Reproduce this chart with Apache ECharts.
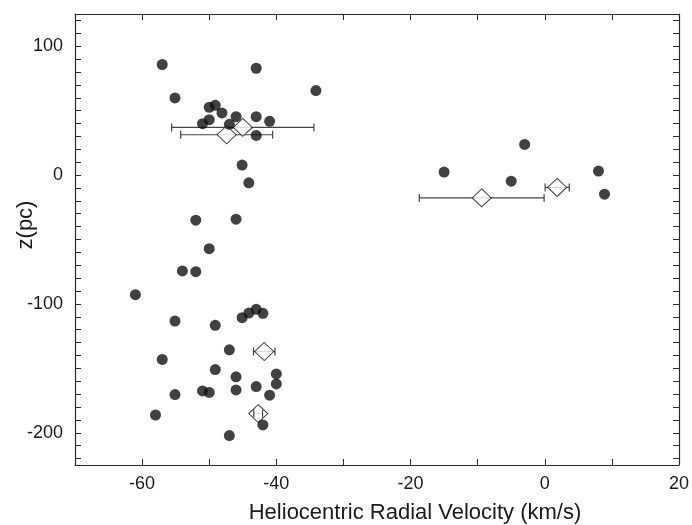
<!DOCTYPE html>
<html>
<head>
<meta charset="utf-8">
<script src="https://cdn.jsdelivr.net/npm/echarts@6/dist/echarts.min.js"></script>
<style>html,body{margin:0;padding:0;background:#fff}#c{width:692px;height:525px}</style>
</head>
<body>
<div id="c"></div>
<script>
// Filled circles: individual stars
const starV = [-57.0,-43.0,-34.1,-55.1,-50.0,-49.1,-48.1,-46.0,-43.0,-50.0,-51.0,-47.0,-41.0,-43.0,-45.1,-44.1,-52.0,-46.0,
  -50.0,-54.0,-52.0,-61.0,-45.1,-44.1,-43.0,-42.0,-55.1,-49.1,-47.0,-57.0,-49.1,-46.0,-40.0,-40.0,-43.0,-46.0,-51.0,-50.0,-55.1,-41.0,-58.0,-42.0,-47.0,
  -15.0,-3.0,-5.0,8.0,8.9];
const starZ = [85.8,82.9,65.6,59.9,52.6,54.1,48.2,45.3,45.3,43.0,39.9,39.4,41.7,30.8,7.8,-6.0,-35.0,-34.2,
  -57.1,-74.4,-75.0,-92.8,-110.7,-107.1,-104.2,-107.3,-113.3,-116.6,-135.6,-143.1,-150.9,-156.6,-154.3,-162.1,-164.1,-166.7,-167.5,-168.7,-170.3,-170.8,-186.2,-193.9,-202.2,
  2.3,23.8,-4.7,3.1,-14.8];
// Open diamonds: group means with velocity errors
const meanV = [-45.0,-47.4,-41.8,-42.7,-9.4,1.85];
const meanZ = [37.0,31.3,-136.9,-185.1,-17.7,-9.6];
const meanErr = [10.6,6.85,1.6,0.65,9.3,1.8];
// Axis ticks / labels
const xTicks = [-70,-60,-50,-40,-30,-20,-10,0,10,20];
const xLabels = [-60,-40,-20,0,20];
const yTicks = [-220,-210,-200,-190,-180,-170,-160,-150,-140,-130,-120,-110,-100,-90,-80,-70,-60,-50,-40,-30,-20,-10,0,10,20,30,40,50,60,70,80,90,100,110,120];
const yLabels = [-200,-100,0,100];
const xName = 'Heliocentric Radial Velocity (km/s)';
const yName = 'z(pc)';

const stars = starV.map((v,i)=>[v, starZ[i]]);
const means = meanV.map((v,i)=>[v, meanZ[i], meanErr[i]]);

const chart = echarts.init(document.getElementById('c'), null, {renderer:'canvas'});
const axisCol = '#2a2a2a';
const font = 'Liberation Sans, Arial, sans-serif';
function xAx(pos, showLabel){
  return {type:'value', position:pos, min:-70, max:20, interval:10,
    axisLine:{show:true, onZero:false, lineStyle:{color:axisCol, width:1.2}},
    axisTick:{show:true, inside:true, length:6, customValues:xTicks, lineStyle:{color:axisCol}},
    axisLabel:{show:showLabel, customValues:xLabels, margin:10, fontSize:18, color:'#1a1a1a', fontFamily:font},
    splitLine:{show:false}};
}
function yAx(pos, showLabel){
  return {type:'value', position:pos, min:-225, max:125,
    axisLine:{show:true, onZero:false, lineStyle:{color:axisCol, width:1.2}},
    axisTick:{show:true, inside:true, length:6, customValues:yTicks, lineStyle:{color:axisCol}},
    axisLabel:{show:showLabel, customValues:yLabels, margin:12, fontSize:18, color:'#1a1a1a', fontFamily:font},
    splitLine:{show:false}};
}
chart.setOption({
  animation:false,
  grid:{left:75, right:11, top:14, bottom:60},
  xAxis:[xAx('bottom', true), xAx('top', false)],
  yAxis:[yAx('left', true), yAx('right', false)],
  graphic:[
    {type:'text', x:415, y:513, style:{text:xName, fontSize:22, fill:'#1a1a1a', fontFamily:font, textAlign:'center', textVerticalAlign:'middle'}},
    {type:'text', x:26, y:225, rotation:Math.PI/2, style:{text:yName, fontSize:22, fill:'#1a1a1a', fontFamily:font, textAlign:'center', textVerticalAlign:'middle'}}
  ],
  series:[
    {type:'custom', z:1, data:means, renderItem:function(params, api){
      const c = api.coord([api.value(0), api.value(1)]);
      const l = api.coord([api.value(0)-api.value(2), api.value(1)]);
      const r = api.coord([api.value(0)+api.value(2), api.value(1)]);
      return {type:'line', shape:{x1:l[0], y1:c[1], x2:r[0], y2:c[1]}, style:{stroke:'#444', lineWidth:1.2}};
    }},
    {type:'scatter', z:2, data:means.map(d=>[d[0],d[1]]), symbol:'diamond', symbolSize:[19,18],
      itemStyle:{color:'#fff', borderColor:'#111', borderWidth:1}},
    {type:'custom', z:3, data:means, renderItem:function(params, api){
      const c = api.coord([api.value(0), api.value(1)]);
      const l = api.coord([api.value(0)-api.value(2), api.value(1)]);
      const r = api.coord([api.value(0)+api.value(2), api.value(1)]);
      const h = 4;
      return {type:'group', children:[
        {type:'line', shape:{x1:l[0], y1:c[1]-h, x2:l[0], y2:c[1]+h}, style:{stroke:'#444', lineWidth:1.2}},
        {type:'line', shape:{x1:r[0], y1:c[1]-h, x2:r[0], y2:c[1]+h}, style:{stroke:'#444', lineWidth:1.2}}
      ]};
    }},
    {type:'scatter', z:4, data:stars, symbol:'circle', symbolSize:11, itemStyle:{color:'#111'}}
  ]
});
</script>
</body>
</html>
